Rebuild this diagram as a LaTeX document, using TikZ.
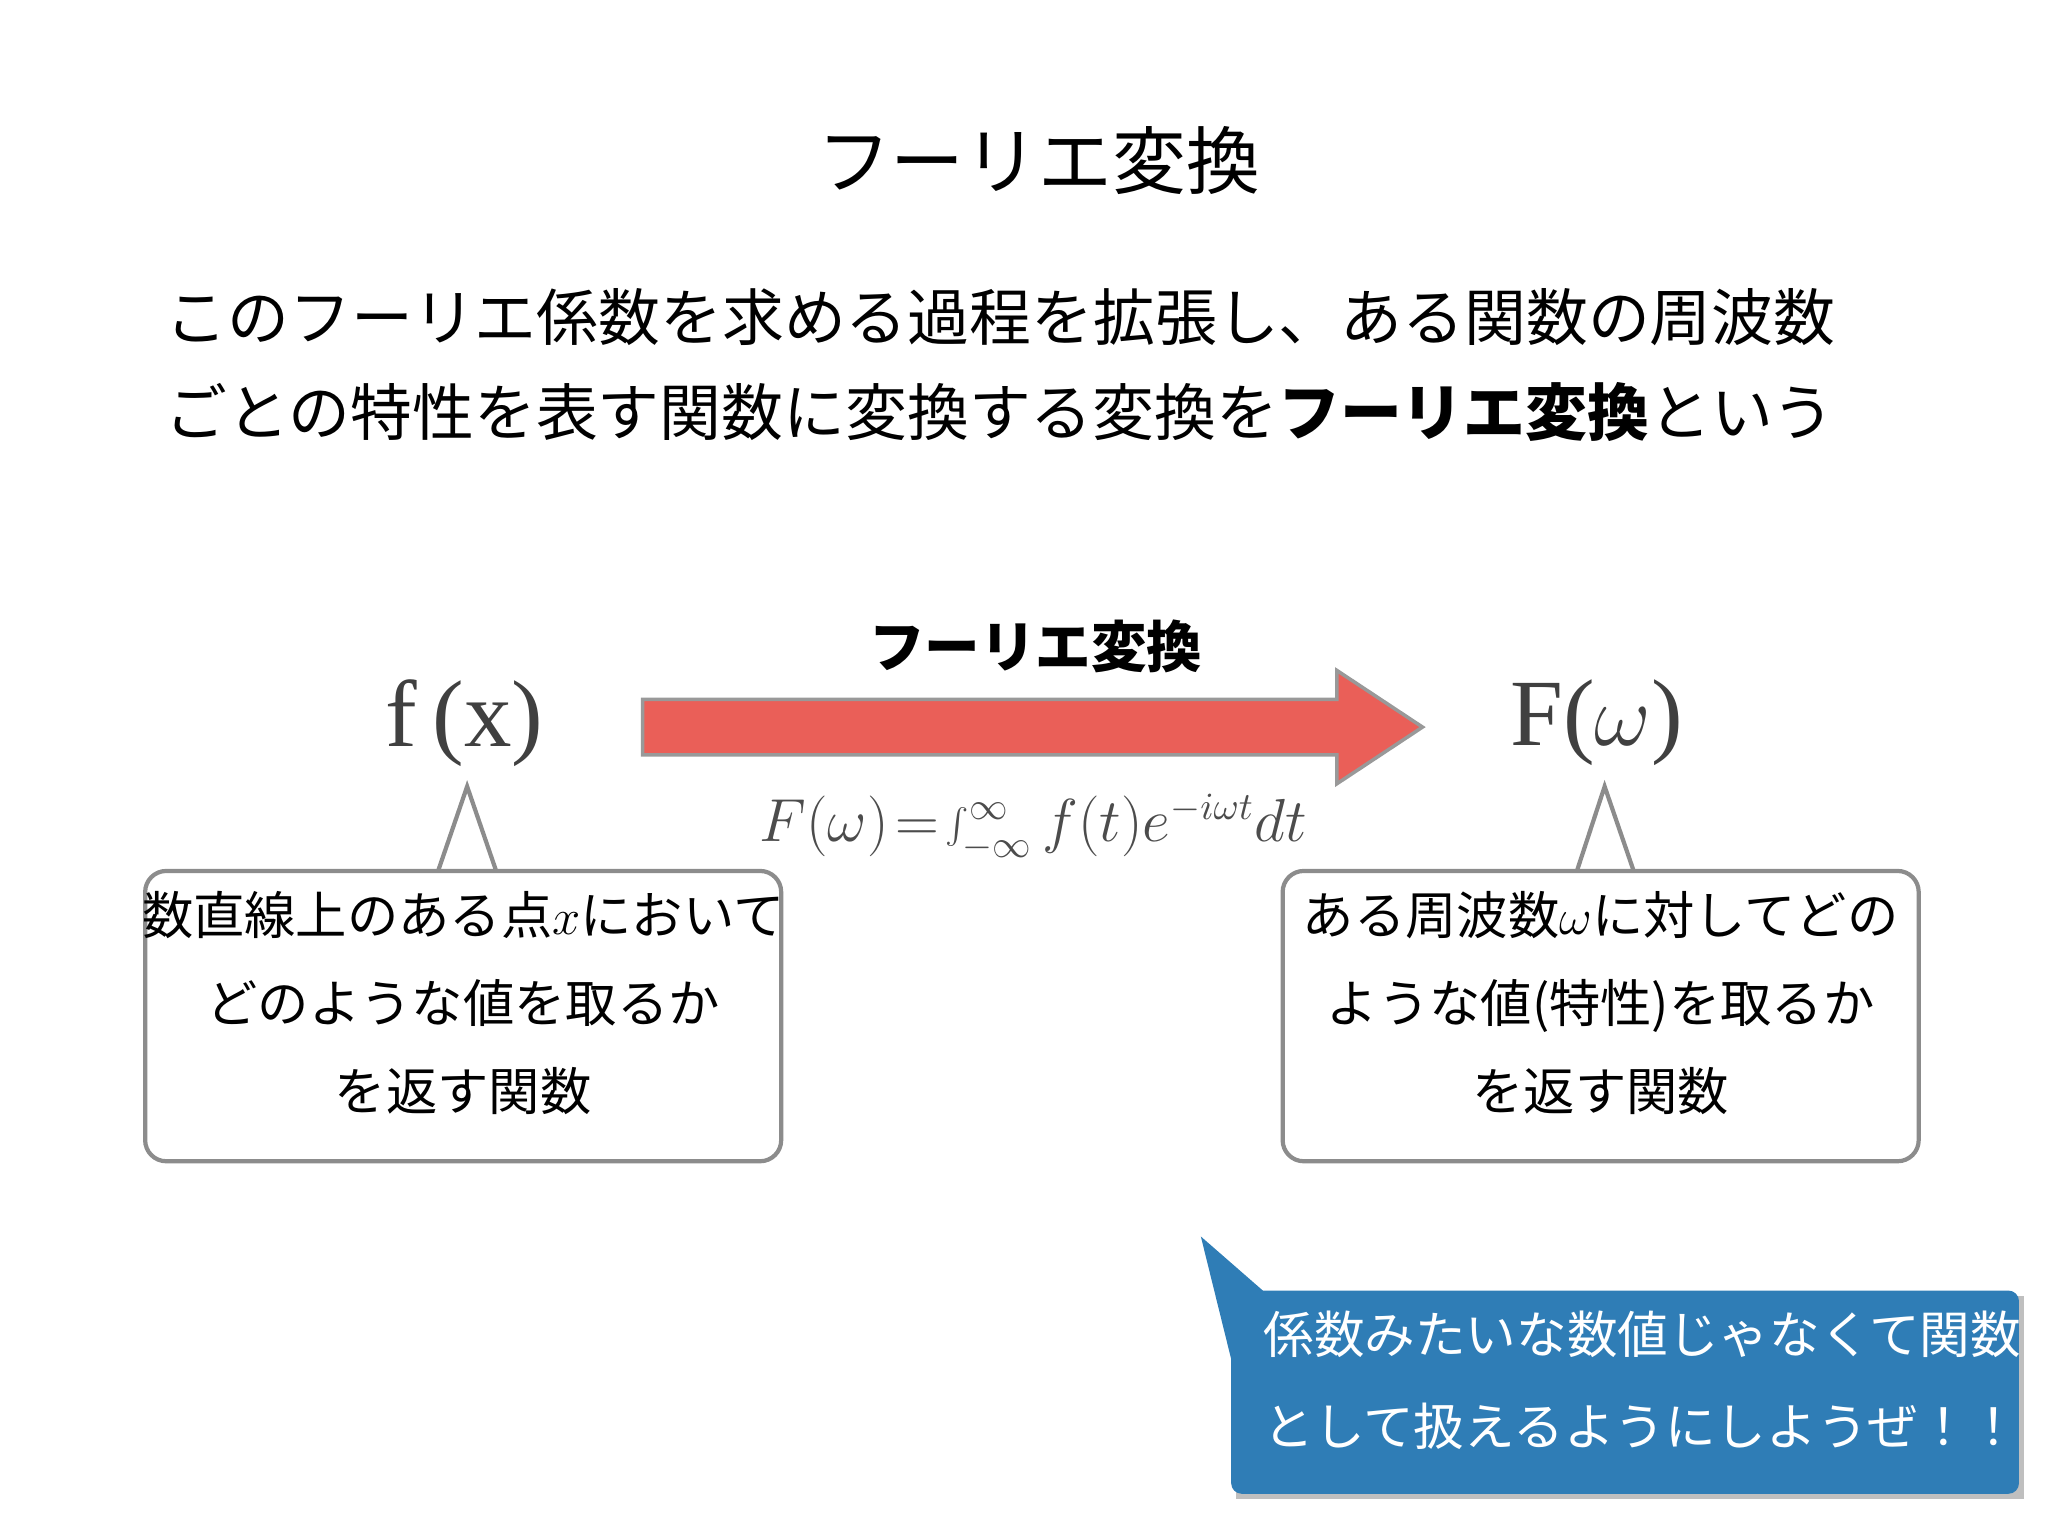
\documentclass[tikz,border=0pt]{standalone}
\usepackage{fontspec}
\setmainfont{Noto Sans CJK JP}
\newfontfamily\jp{Noto Sans CJK JP}
\newfontfamily\serif{Liberation Serif}
\usetikzlibrary{shadows}
\definecolor{arrred}{HTML}{EA5F58}
\definecolor{cblue}{HTML}{2F7DB6}
\begin{document}
\begin{tikzpicture}[x=0.0132cm,y=-0.0132cm,
  txt/.style={inner sep=0,font=\jp\fontsize{14.6}{18}\selectfont,align=center},
  bubble/.style={draw=gray!90,line width=1.2pt,rounded corners=6pt,fill=white}]
\useasboundingbox (0,0) rectangle (1552,1164);
\node[inner sep=0,font=\jp\fontsize{21}{24}\selectfont] (title) at (787,122) {フーリエ変換};
\node[inner sep=0,anchor=west,font=\jp\fontsize{17.6}{20}\selectfont] (l1) at (125,240) {このフーリエ係数を求める過程を拡張し、ある関数の周波数};
\node[inner sep=0,anchor=west,font=\jp\fontsize{17.6}{20}\selectfont] (l2) at (125,312) {ごとの特性を表す関数に変換する変換を\textbf{フーリエ変換}という};
\node[inner sep=0,font=\jp\bfseries\fontsize{15.8}{18}\selectfont] (ft) at (785,490) {フーリエ変換};
\node[inner sep=0,font=\serif\fontsize{27}{30}\selectfont,text=black!75] (fx) at (352,548) {f\,(x)};
\node[inner sep=0,font=\serif\fontsize{27}{30}\selectfont,text=black!75] (Fw) at (1210,548) {F($\omega$)};
\draw[draw=gray!80,line width=1pt,fill=arrred] (487,530) -- (1013,530) -- (1013,508) -- (1078,551) -- (1013,594) -- (1013,572) -- (487,572) -- cycle;
\node[inner sep=0,text=black!70,font=\fontsize{16}{18}\selectfont] (form) at (783,627) {$F(\omega)\!=\!\int_{-\infty}^{\infty} f(t)e^{-i\omega t}dt$};
% left bubble
\draw[bubble] (110,660) rectangle (592,880);
\fill[white] (332,656) -- (354,596) -- (376,656) -- cycle;
\draw[gray!90,line width=1.2pt] (332,660) -- (354,596) -- (376,660);
\node[txt] (lt) at (351,760) {数直線上のある点$x$において\\[7pt]どのような値を取るか\\[7pt]を返す関数};
% right bubble
\draw[bubble] (972,660) rectangle (1454,880);
\fill[white] (1195,656) -- (1216,596) -- (1238,656) -- cycle;
\draw[gray!90,line width=1.2pt] (1195,660) -- (1216,596) -- (1238,660);
\node[txt] (rt) at (1213,760) {ある周波数$\omega$に対してどの\\[7pt]ような値(特性)を取るか\\[7pt]を返す関数};
% blue callout
\fill[black!25] (937,982) rectangle (1534,1136);
\fill[cblue,rounded corners=3pt] (933,978) rectangle (1530,1132);
\fill[cblue] (910,937) -- (957,978) -- (933,1030) -- cycle;
\node[txt,anchor=west,align=left,text=white,font=\jp\fontsize{14.4}{18}\selectfont] (bt) at (957,1046) {係数みたいな数値じゃなくて関数\\[8pt]として扱えるようにしようぜ！！};
\end{tikzpicture}
\end{document}
